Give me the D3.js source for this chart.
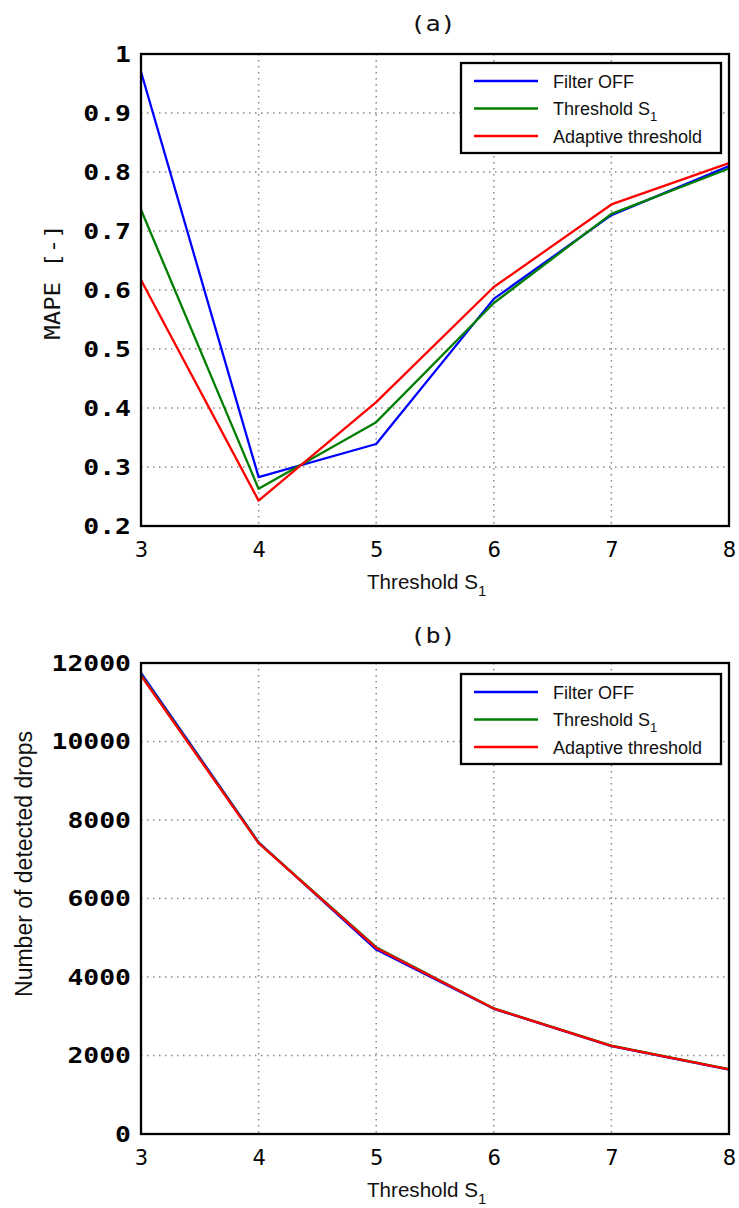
<!DOCTYPE html>
<html>
<head>
<meta charset="utf-8">
<script src="https://cdn.jsdelivr.net/npm/d3@7"></script>
<style>
  body { margin: 0; background: #fff; }
  svg { display: block; }
</style>
</head>
<body>
<script>
'use strict';

// thresholds on the x axis
const thresholds = [3, 4, 5, 6, 7, 8];

// (a) MAPE values
const mapeFilterOff = [0.970, 0.283, 0.339, 0.585, 0.727, 0.810];
const mapeThreshold = [0.736, 0.263, 0.376, 0.578, 0.729, 0.806];
const mapeAdaptive  = [0.617, 0.243, 0.410, 0.605, 0.745, 0.815];

// (b) number of detected drops
const dropsFilterOff = [11750, 7430, 4700, 3190, 2240, 1640];
const dropsThreshold = [11700, 7420, 4760, 3200, 2250, 1650];
const dropsAdaptive  = [11680, 7410, 4740, 3195, 2245, 1645];

const seriesNames = ['Filter OFF', 'Threshold S', 'Adaptive threshold'];
const seriesColors = ['#0000ff', '#007f00', '#ff0000'];

const yTicksA = [0.2, 0.3, 0.4, 0.5, 0.6, 0.7, 0.8, 0.9, 1];
const yTicksB = [0, 2000, 4000, 6000, 8000, 10000, 12000];

const W = 739, H = 1208;
const SX = 1.2; // the mono labels in the picture are stretched sideways
const svg = d3.select('body').append('svg').attr('width', W).attr('height', H);

function drawPanel(opt) {
	const x = d3.scaleLinear().domain([3, 8]).range([opt.left, opt.right]);
	const y = d3.scaleLinear().domain(opt.yDomain).range([opt.bottom, opt.top]);
	const g = svg.append('g');

	// dotted grid
	g.append('g').selectAll('line').data(thresholds).enter().append('line')
		.attr('x1', d => x(d)).attr('x2', d => x(d))
		.attr('y1', opt.top).attr('y2', opt.bottom)
		.attr('stroke', '#888').attr('stroke-width', 1.5).attr('stroke-dasharray', '1.5,4.5');
	g.append('g').selectAll('line').data(opt.yTicks).enter().append('line')
		.attr('x1', opt.left).attr('x2', opt.right)
		.attr('y1', d => y(d)).attr('y2', d => y(d))
		.attr('stroke', '#888').attr('stroke-width', 1.5).attr('stroke-dasharray', '1.5,4.5');

	// data lines
	const line = d3.line().x((d, i) => x(thresholds[i])).y(d => y(d));
	opt.series.forEach((s, i) => {
		g.append('path').datum(s).attr('d', line)
			.attr('fill', 'none').attr('stroke', seriesColors[i])
			.attr('stroke-width', 2.3).attr('stroke-linejoin', 'round');
	});

	// frame
	g.append('rect')
		.attr('x', opt.left).attr('y', opt.top)
		.attr('width', opt.right - opt.left).attr('height', opt.bottom - opt.top)
		.attr('fill', 'none').attr('stroke', '#000').attr('stroke-width', 2.3);

	// axes
	const yAxis = d3.axisLeft(y).tickValues(opt.yTicks).tickSize(0).tickFormat(opt.yFormat);
	const ya = g.append('g').attr('transform', 'translate(' + opt.left + ',0)').call(yAxis);
	ya.select('.domain').remove();
	ya.selectAll('text')
		.attr('x', -10 / SX).attr('transform', 'scale(' + SX + ',1)')
		.attr('font-family', '"DejaVu Sans Mono", monospace').attr('font-weight', 'bold')
		.attr('font-size', 22).attr('fill', '#000');

	const xAxis = d3.axisBottom(x).tickValues(thresholds).tickSize(0).tickPadding(16).tickFormat(d3.format('d'));
	const xa = g.append('g').attr('transform', 'translate(0,' + opt.bottom + ')').call(xAxis);
	xa.select('.domain').remove();
	xa.selectAll('text')
		.attr('font-family', '"DejaVu Sans", sans-serif').attr('font-size', 21).attr('fill', '#000');

	// title
	g.append('text').attr('transform', 'translate(' + opt.titleX + ',' + opt.titleY + ') scale(' + SX + ',1)')
		.attr('text-anchor', 'middle')
		.attr('font-family', '"DejaVu Sans Mono", monospace').attr('font-size', 21)
		.attr('fill', '#111').text(opt.title);

	// x label
	const xl = g.append('text').attr('x', 367).attr('y', opt.bottom + 63)
		.attr('font-family', '"Liberation Sans", Arial, sans-serif').attr('font-size', 20.6).attr('fill', '#111');
	xl.append('tspan').text('Threshold S');
	xl.append('tspan').attr('dy', 7).attr('font-size', 15).text('1');

	// y label
	opt.yLabel(g);

	// legend
	const lg = g.append('g');
	lg.append('rect').attr('x', 461).attr('y', opt.top + opt.legTop)
		.attr('width', 260).attr('height', 90)
		.attr('fill', '#fff').attr('stroke', '#000').attr('stroke-width', 2.3);
	seriesNames.forEach((n, i) => {
		const ry = opt.top + opt.legTop + 18 + i * 27.5;
		lg.append('line').attr('x1', 474).attr('x2', 538).attr('y1', ry).attr('y2', ry)
			.attr('stroke', seriesColors[i]).attr('stroke-width', 2.4);
		const t = lg.append('text').attr('x', 553).attr('y', ry + 6.5)
			.attr('font-family', '"Liberation Sans", Arial, sans-serif').attr('font-size', 18).attr('fill', '#111');
		t.append('tspan').text(n);
		if (i === 1) t.append('tspan').attr('dy', 6).attr('font-size', 13).text('1');
	});
}

drawPanel({
	left: 141, right: 729, top: 54, bottom: 526,
	yDomain: [0.2, 1], yTicks: yTicksA,
	yFormat: d => d === 1 ? '1' : d.toFixed(1),
	series: [mapeFilterOff, mapeThreshold, mapeAdaptive],
	title: '(a)', titleX: 433, titleY: 31,
	legTop: 9,
	yLabel: g => {
		g.append('text').attr('transform', 'translate(60,282) rotate(-90) scale(1.17,1)').attr('text-anchor', 'middle')
			.attr('font-family', '"DejaVu Sans Mono", monospace').attr('font-size', 20.5)
			.attr('fill', '#111').text('MAPE [-]');
	}
});

drawPanel({
	left: 141, right: 729, top: 663, bottom: 1134,
	yDomain: [0, 12000], yTicks: yTicksB,
	yFormat: d3.format('d'),
	series: [dropsFilterOff, dropsThreshold, dropsAdaptive],
	title: '(b)', titleX: 433, titleY: 643,
	legTop: 11,
	yLabel: g => {
		g.append('text').attr('transform', 'translate(32,864) rotate(-90)').attr('text-anchor', 'middle')
			.attr('font-family', '"Liberation Sans", Arial, sans-serif').attr('font-size', 23)
			.attr('fill', '#111').text('Number of detected drops');
	}
});
</script>
</body>
</html>
